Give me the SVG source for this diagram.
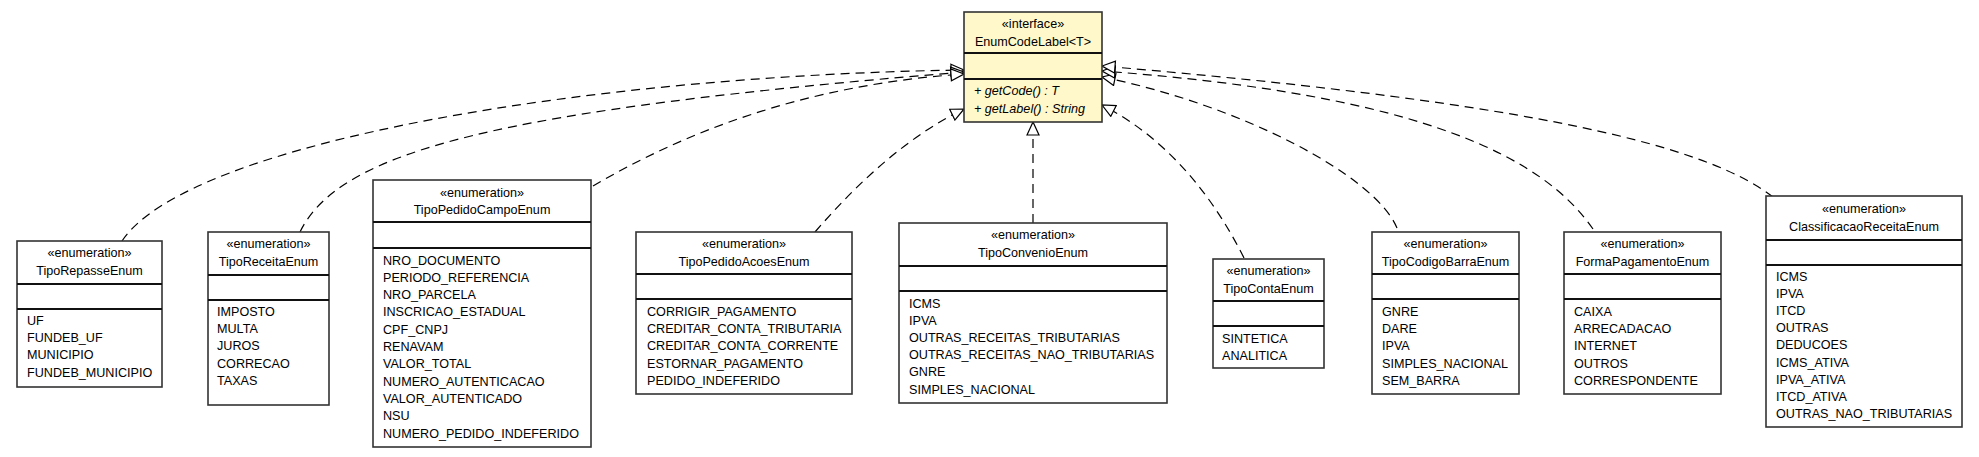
<svg xmlns="http://www.w3.org/2000/svg" width="1979" height="457" viewBox="0 0 1979 457">
<style>
text{font-family:"Liberation Sans",Arial,sans-serif;font-size:12.6px;fill:#000}
.c{text-anchor:middle}
.i{font-style:italic}
.box{fill:#fff;stroke:#333;stroke-width:1.6}
.ibox{fill:#FFF8CA;stroke:#333;stroke-width:1.6}
.sep{stroke:#111;stroke-width:2}
.conn path{fill:none;stroke:#000;stroke-width:1.2;stroke-dasharray:9,6;marker-end:url(#tri)}
</style>
<defs>
<marker id="tri" markerUnits="userSpaceOnUse" markerWidth="16" markerHeight="14" refX="13" refY="6" orient="auto" viewBox="-1 -1 16 14">
<path d="M0,0 L13,6 L0,12 Z" fill="#fff" stroke="#000" stroke-width="1.2"/>
</marker>
</defs>
<rect width="1979" height="457" fill="#fff"/>

<g class="conn" id="connectors">
<path d="M122,241 C190,140 600,75 964,70"/>
<path d="M300,232 C340,150 500,110 964,72"/>
<path d="M593,186 C680,135 800,85 964,74"/>
<path d="M815,232 C860,180 910,135 964,109"/>
<path d="M1033,223 L1033,122"/>
<path d="M1244,258 C1215,200 1170,140 1102,105"/>
<path d="M1397,228 C1375,175 1240,105 1102,77"/>
<path d="M1593,229 C1545,160 1430,95 1102,71"/>
<path d="M1773,197 C1700,140 1500,100 1102,66"/>
</g>

<g id="EnumCodeLabel">
<rect class="ibox" x="964" y="12" width="138" height="110"/>
<line class="sep" x1="964" y1="53" x2="1102" y2="53"/>
<line class="sep" x1="964" y1="79" x2="1102" y2="79"/>
<text class="c" x="1033" y="28">«interface»</text>
<text class="c" x="1033" y="46">EnumCodeLabel&lt;T&gt;</text>
<text class="i" x="974" y="95">+ getCode() : T</text>
<text class="i" x="974" y="113">+ getLabel() : String</text>
</g>

<g id="TipoRepasseEnum">
<rect class="box" x="17" y="241" width="145" height="146"/>
<line class="sep" x1="17" y1="284" x2="162" y2="284"/>
<line class="sep" x1="17" y1="309" x2="162" y2="309"/>
<text class="c" x="89.5" y="257">«enumeration»</text>
<text class="c" x="89.5" y="275">TipoRepasseEnum</text>
<text x="27" y="325">UF</text>
<text x="27" y="342.2">FUNDEB_UF</text>
<text x="27" y="359.4">MUNICIPIO</text>
<text x="27" y="376.6">FUNDEB_MUNICIPIO</text>
</g>

<g id="TipoReceitaEnum">
<rect class="box" x="208" y="232" width="121" height="173"/>
<line class="sep" x1="208" y1="275" x2="329" y2="275"/>
<line class="sep" x1="208" y1="300" x2="329" y2="300"/>
<text class="c" x="268.5" y="248">«enumeration»</text>
<text class="c" x="268.5" y="266">TipoReceitaEnum</text>
<text x="217" y="316">IMPOSTO</text>
<text x="217" y="333.2">MULTA</text>
<text x="217" y="350.4">JUROS</text>
<text x="217" y="367.6">CORRECAO</text>
<text x="217" y="384.8">TAXAS</text>
</g>

<g id="TipoPedidoCampoEnum">
<rect class="box" x="373" y="180" width="218" height="267"/>
<line class="sep" x1="373" y1="222" x2="591" y2="222"/>
<line class="sep" x1="373" y1="248" x2="591" y2="248"/>
<text class="c" x="482" y="197">«enumeration»</text>
<text class="c" x="482" y="214">TipoPedidoCampoEnum</text>
<text x="383" y="264.5">NRO_DOCUMENTO</text>
<text x="383" y="281.8">PERIODO_REFERENCIA</text>
<text x="383" y="299.1">NRO_PARCELA</text>
<text x="383" y="316.4">INSCRICAO_ESTADUAL</text>
<text x="383" y="333.7">CPF_CNPJ</text>
<text x="383" y="351">RENAVAM</text>
<text x="383" y="368.3">VALOR_TOTAL</text>
<text x="383" y="385.6">NUMERO_AUTENTICACAO</text>
<text x="383" y="402.9">VALOR_AUTENTICADO</text>
<text x="383" y="420.2">NSU</text>
<text x="383" y="437.5">NUMERO_PEDIDO_INDEFERIDO</text>
</g>

<g id="TipoPedidoAcoesEnum">
<rect class="box" x="636" y="232" width="216" height="162"/>
<line class="sep" x1="636" y1="274" x2="852" y2="274"/>
<line class="sep" x1="636" y1="299" x2="852" y2="299"/>
<text class="c" x="744" y="248">«enumeration»</text>
<text class="c" x="744" y="266">TipoPedidoAcoesEnum</text>
<text x="647" y="316">CORRIGIR_PAGAMENTO</text>
<text x="647" y="333.2">CREDITAR_CONTA_TRIBUTARIA</text>
<text x="647" y="350.4">CREDITAR_CONTA_CORRENTE</text>
<text x="647" y="367.6">ESTORNAR_PAGAMENTO</text>
<text x="647" y="384.8">PEDIDO_INDEFERIDO</text>
</g>

<g id="TipoConvenioEnum">
<rect class="box" x="899" y="223" width="268" height="180"/>
<line class="sep" x1="899" y1="266" x2="1167" y2="266"/>
<line class="sep" x1="899" y1="291" x2="1167" y2="291"/>
<text class="c" x="1033" y="239">«enumeration»</text>
<text class="c" x="1033" y="257">TipoConvenioEnum</text>
<text x="909" y="307.5">ICMS</text>
<text x="909" y="324.7">IPVA</text>
<text x="909" y="341.9">OUTRAS_RECEITAS_TRIBUTARIAS</text>
<text x="909" y="359.1">OUTRAS_RECEITAS_NAO_TRIBUTARIAS</text>
<text x="909" y="376.3">GNRE</text>
<text x="909" y="393.5">SIMPLES_NACIONAL</text>
</g>

<g id="TipoContaEnum">
<rect class="box" x="1213" y="259" width="111" height="109"/>
<line class="sep" x1="1213" y1="301" x2="1324" y2="301"/>
<line class="sep" x1="1213" y1="326" x2="1324" y2="326"/>
<text class="c" x="1268.5" y="275">«enumeration»</text>
<text class="c" x="1268.5" y="293">TipoContaEnum</text>
<text x="1222" y="342.5">SINTETICA</text>
<text x="1222" y="359.7">ANALITICA</text>
</g>

<g id="TipoCodigoBarraEnum">
<rect class="box" x="1372" y="232" width="147" height="162"/>
<line class="sep" x1="1372" y1="274" x2="1519" y2="274"/>
<line class="sep" x1="1372" y1="299" x2="1519" y2="299"/>
<text class="c" x="1445.5" y="248">«enumeration»</text>
<text class="c" x="1445.5" y="266">TipoCodigoBarraEnum</text>
<text x="1382" y="316">GNRE</text>
<text x="1382" y="333.2">DARE</text>
<text x="1382" y="350.4">IPVA</text>
<text x="1382" y="367.6">SIMPLES_NACIONAL</text>
<text x="1382" y="384.8">SEM_BARRA</text>
</g>

<g id="FormaPagamentoEnum">
<rect class="box" x="1564" y="232" width="157" height="162"/>
<line class="sep" x1="1564" y1="274" x2="1721" y2="274"/>
<line class="sep" x1="1564" y1="299" x2="1721" y2="299"/>
<text class="c" x="1642.5" y="248">«enumeration»</text>
<text class="c" x="1642.5" y="266">FormaPagamentoEnum</text>
<text x="1574" y="316">CAIXA</text>
<text x="1574" y="333.2">ARRECADACAO</text>
<text x="1574" y="350.4">INTERNET</text>
<text x="1574" y="367.6">OUTROS</text>
<text x="1574" y="384.8">CORRESPONDENTE</text>
</g>

<g id="ClassificacaoReceitaEnum">
<rect class="box" x="1766" y="196" width="196" height="231"/>
<line class="sep" x1="1766" y1="240" x2="1962" y2="240"/>
<line class="sep" x1="1766" y1="265" x2="1962" y2="265"/>
<text class="c" x="1864" y="212.5">«enumeration»</text>
<text class="c" x="1864" y="231">ClassificacaoReceitaEnum</text>
<text x="1776" y="281">ICMS</text>
<text x="1776" y="298.1">IPVA</text>
<text x="1776" y="315.2">ITCD</text>
<text x="1776" y="332.3">OUTRAS</text>
<text x="1776" y="349.4">DEDUCOES</text>
<text x="1776" y="366.5">ICMS_ATIVA</text>
<text x="1776" y="383.6">IPVA_ATIVA</text>
<text x="1776" y="400.7">ITCD_ATIVA</text>
<text x="1776" y="417.8">OUTRAS_NAO_TRIBUTARIAS</text>
</g>
</svg>
